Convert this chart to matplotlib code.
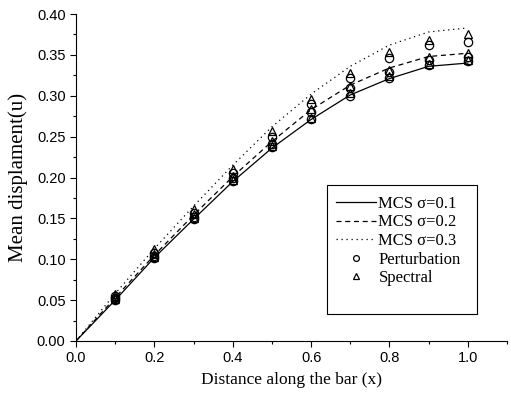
import matplotlib
matplotlib.use("Agg")
import matplotlib.pyplot as plt
from matplotlib.lines import Line2D
from matplotlib.patches import Rectangle
from matplotlib.ticker import MultipleLocator

# Data
x_line = [0.0, 0.1, 0.2, 0.3, 0.4, 0.5, 0.6, 0.7, 0.8, 0.9, 1.0]
mcs_01 = [0.0, 0.050, 0.102, 0.149, 0.195, 0.236, 0.271, 0.301, 0.321, 0.336, 0.340]
mcs_02 = [0.0, 0.053, 0.105, 0.154, 0.201, 0.244, 0.283, 0.313, 0.334, 0.348, 0.352]
mcs_03 = [0.0, 0.058, 0.113, 0.165, 0.215, 0.262, 0.302, 0.336, 0.362, 0.378, 0.383]

x_pts = [0.1, 0.2, 0.3, 0.4, 0.5, 0.6, 0.7, 0.8, 0.9, 1.0]
pert_01 = [0.050, 0.102, 0.149, 0.196, 0.237, 0.272, 0.300, 0.322, 0.338, 0.343]
pert_02 = [0.052, 0.104, 0.152, 0.199, 0.241, 0.280, 0.309, 0.329, 0.344, 0.348]
pert_03 = [0.055, 0.108, 0.157, 0.205, 0.250, 0.290, 0.322, 0.346, 0.362, 0.366]
spec_01 = [0.051, 0.103, 0.150, 0.197, 0.238, 0.273, 0.303, 0.324, 0.339, 0.344]
spec_02 = [0.054, 0.106, 0.155, 0.202, 0.245, 0.284, 0.312, 0.332, 0.347, 0.352]
spec_03 = [0.058, 0.112, 0.162, 0.211, 0.257, 0.296, 0.328, 0.353, 0.368, 0.375]

legend_labels = ["MCS σ=0.1", "MCS σ=0.2", "MCS σ=0.3", "Perturbation", "Spectral"]

serif = "Liberation Serif"
sans = "Liberation Sans"
W, H = 511, 395

fig = plt.figure(figsize=(W / 100, H / 100), dpi=100)
ax = fig.add_axes([76 / W, 1 - 341 / H, 431 / W, 327 / H])

lw = 0.9
ax.plot(x_line, mcs_01, "-", color="black", lw=lw)
ax.plot(x_line, mcs_02, "--", color="black", lw=lw, dashes=(4, 3))
ax.plot(x_line, mcs_03, ":", color="black", lw=lw, dashes=(1, 3))

mk = dict(ls="none", mfc="none", mec="black", mew=0.9, ms=6)
for p in (pert_01, pert_02, pert_03):
    ax.plot(x_pts, p, marker="o", **mk)
for s in (spec_01, spec_02, spec_03):
    ax.plot(x_pts, s, marker="^", **mk)

ax.set_xlim(0, 1.1)
ax.set_ylim(0, 0.40)
ax.xaxis.set_major_locator(MultipleLocator(0.2))
ax.xaxis.set_minor_locator(MultipleLocator(0.1))
ax.yaxis.set_major_locator(MultipleLocator(0.05))
ax.yaxis.set_minor_locator(MultipleLocator(0.025))
ax.xaxis.set_major_formatter(plt.FuncFormatter(lambda v, _: f"{v:.1f}"))
ax.yaxis.set_major_formatter(plt.FuncFormatter(lambda v, _: f"{v:.2f}"))
ax.spines["top"].set_visible(False)
ax.spines["right"].set_visible(False)
ax.tick_params(which="major", direction="out", length=4, width=0.8, labelsize=10.5)
ax.tick_params(which="minor", direction="out", length=2, width=0.8)
for lab in ax.get_xticklabels() + ax.get_yticklabels():
    lab.set_family(sans)

ax.set_xlabel("Distance along the bar (x)", family=serif, fontsize=12.5, labelpad=5)
ax.set_ylabel("Mean displament(u)", family=serif, fontsize=15, labelpad=6)

# legend frame drawn separately (reference box has extra room at the bottom)
fig.add_artist(Rectangle((327 / W, 1 - 314 / H), 150 / W, 129 / H, transform=fig.transFigure,
                         fill=False, edgecolor="black", lw=0.8))
handles = [
    Line2D([], [], color="black", lw=lw, ls="-"),
    Line2D([], [], color="black", lw=lw, ls="--", dashes=(4, 3)),
    Line2D([], [], color="black", lw=lw, ls=":", dashes=(1, 3)),
    Line2D([], [], marker="o", **mk),
    Line2D([], [], marker="^", **mk),
]
fig.legend(handles, legend_labels, loc="upper left", bbox_to_anchor=(336 / W, 1 - 196 / H),
           prop={"family": serif, "size": 12}, frameon=False, handlelength=2.4,
           handletextpad=0.15, borderaxespad=0, borderpad=0, labelspacing=0.15,
           markerscale=0.7)

fig.savefig("out.png", dpi=100)
